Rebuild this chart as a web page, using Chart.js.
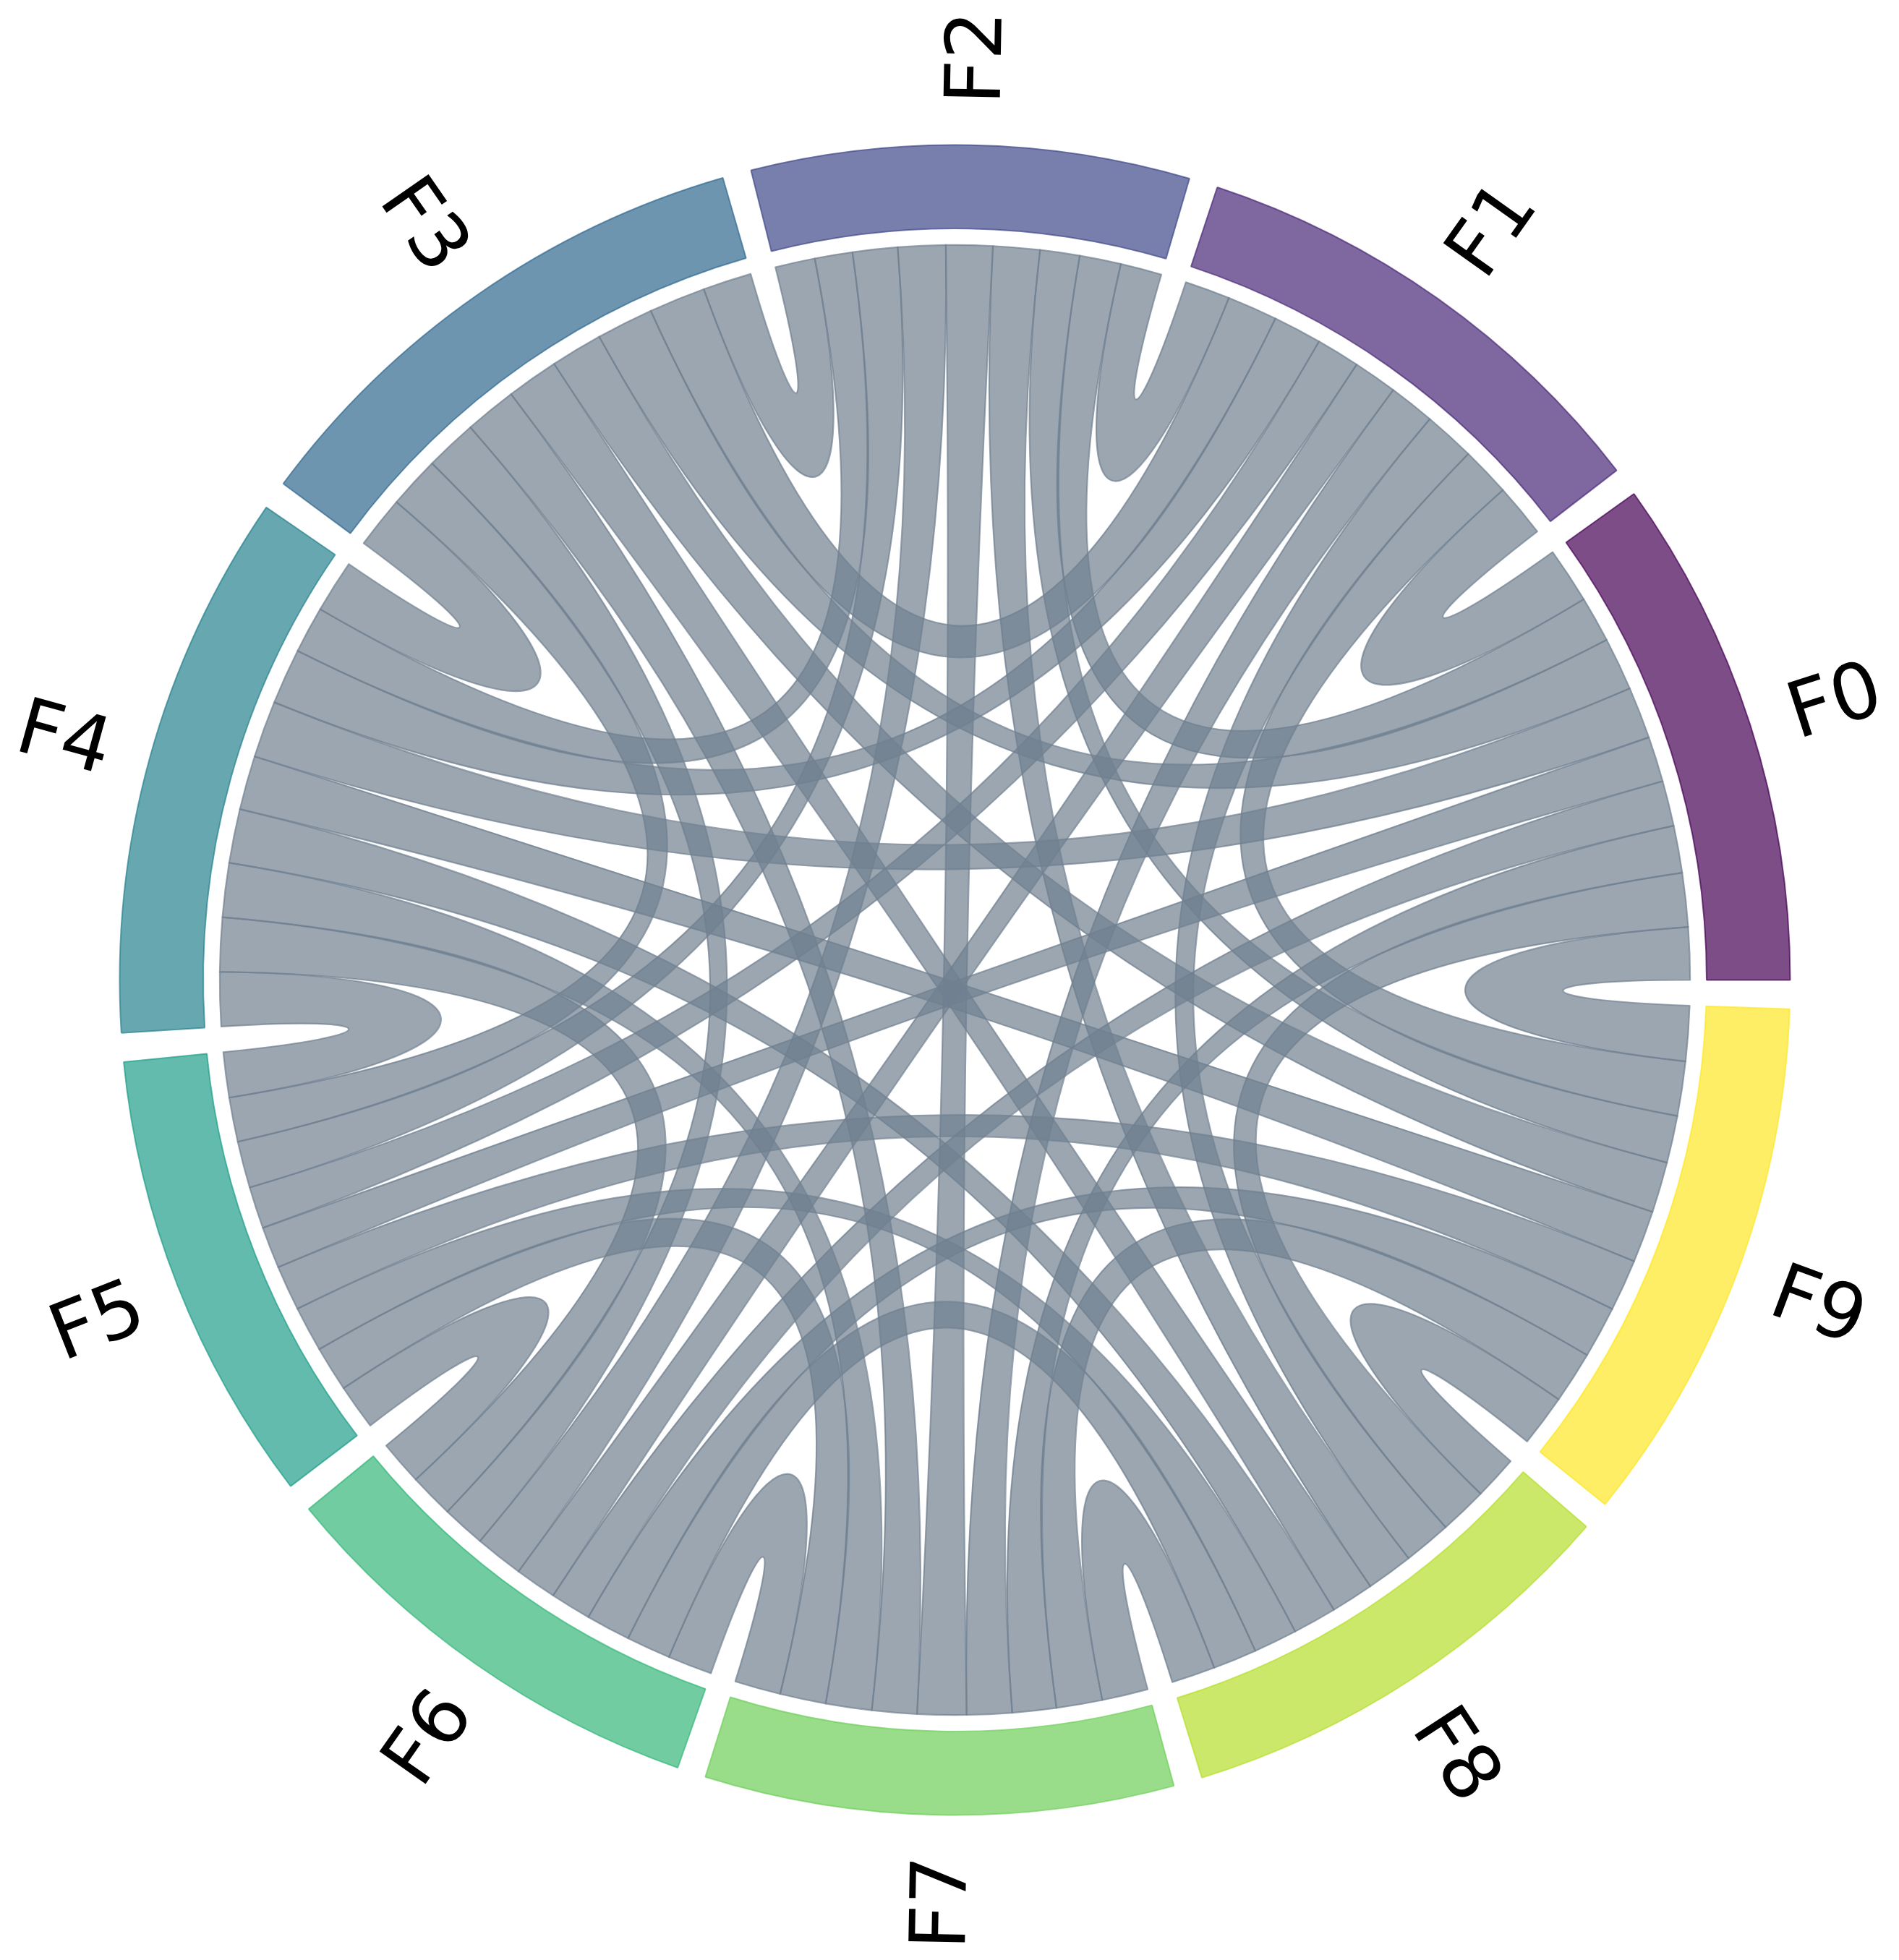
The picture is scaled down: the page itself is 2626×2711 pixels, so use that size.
<!DOCTYPE html>
<html><head><meta charset="utf-8">
<script src="https://cdn.jsdelivr.net/npm/chart.js@4.4.0/dist/chart.umd.min.js"></script>
<style>html,body{margin:0;padding:0;background:#fff;}canvas{display:block;}</style>
</head><body>
<canvas id="c" width="2626" height="2711" style="width:2626px;height:2711px"></canvas>
<script>
// ---- data (flow widths, row = source node, column = target node) ----
const nodes = ['F0','F1','F2','F3','F4','F5','F6','F7','F8','F9'];
const fromF0 = [0, 4.41, 3.64, 4.19, 4.10, 3.58, 3.58, 3.73, 4.25, 4.14];
const fromF1 = [4.20, 0, 3.57, 3.97, 3.84, 3.44, 3.48, 3.64, 4.05, 3.90];
const fromF2 = [3.27, 3.26, 0, 3.14, 2.98, 3.55, 3.76, 3.67, 3.69, 3.13];
const fromF3 = [4.50, 4.47, 3.84, 0, 4.10, 4.10, 4.10, 4.10, 4.10, 4.10];
const fromF4 = [4.49, 4.41, 3.69, 4.17, 0, 4.27, 4.27, 4.27, 4.27, 4.27];
const fromF5 = [3.29, 3.31, 3.69, 3.50, 3.58, 0, 3.58, 3.58, 3.58, 3.58];
const fromF6 = [3.22, 3.29, 3.82, 3.43, 3.51, 3.51, 0, 3.51, 3.51, 3.51];
const fromF7 = [3.47, 3.56, 3.86, 3.55, 3.63, 3.63, 3.63, 0, 3.63, 3.63];
const fromF8 = [3.77, 3.77, 3.70, 3.38, 3.46, 3.46, 3.46, 3.46, 0, 3.46];
const fromF9 = [4.36, 4.31, 3.72, 4.01, 4.10, 4.10, 4.10, 4.10, 4.10, 0];
const matrix = [fromF0, fromF1, fromF2, fromF3, fromF4, fromF5, fromF6, fromF7, fromF8, fromF9];
const arcColors = ['#440154','#482878','#3e4989','#31688e','#26828e','#1f9e89','#35b779','#6ece58','#b5de2b','#fde725'];
const padDeg = 2;

function rgba(hex, a){const v=parseInt(hex.slice(1),16);return `rgba(${v>>16&255},${v>>8&255},${v&255},${a})`;}

const n = nodes.length;
const rowSums = matrix.map(r => r.reduce((a,b)=>a+b,0));
const total = rowSums.reduce((a,b)=>a+b,0);
const gapValue = total * padDeg / (360 - n*padDeg);

// doughnut slices, clockwise from the 3 o'clock position: gap, F9, gap, F8, ... gap, F0
const sliceValues=[], sliceFill=[], sliceBorder=[], sliceBW=[], sliceNode=[];
for (let k=n-1;k>=0;k--){
  sliceValues.push(gapValue); sliceFill.push('rgba(0,0,0,0)'); sliceBorder.push('rgba(0,0,0,0)'); sliceBW.push(0); sliceNode.push(-1);
  sliceValues.push(rowSums[k]); sliceFill.push(rgba(arcColors[k],0.7)); sliceBorder.push(rgba(arcColors[k],0.7)); sliceBW.push(2); sliceNode.push(k);
}

// control-point radius factor of a chord edge as a function of the angular distance of its ends
function kCtrl(d){ return Math.max(0.3, 1 - 0.182*Math.pow(Math.max(d,0), 0.339)); }
function angDist(a,b){ let d=Math.abs(a-b)%360; return d>180?360-d:d; }

const chordPlugin = {
  id:'chords',
  afterDatasetsDraw(chart){
    const meta = chart.getDatasetMeta(0);
    const arcs=[]; let cx,cy,rIn,rOut;
    meta.data.forEach((el,idx)=>{
      const p = el.getProps(['x','y','startAngle','endAngle','innerRadius','outerRadius'], true);
      cx=p.x; cy=p.y; rIn=p.innerRadius; rOut=p.outerRadius;
      const node = sliceNode[idx];
      if (node<0) return;
      const a0 = -p.endAngle*180/Math.PI, a1 = -p.startAngle*180/Math.PI;
      const s = ((a0%360)+360)%360;
      arcs[node] = [s, s + (a1-a0)];
    });
    const sub = nodes.map(()=>[]);
    for (let i=0;i<n;i++){
      let cur = arcs[i][0];
      const sc = (arcs[i][1]-arcs[i][0])/rowSums[i];
      for (let st=1; st<n; st++){
        const j=(i-st+n)%n;
        const w = matrix[i][j]*sc;
        sub[i][j]=[cur,cur+w]; cur+=w;
      }
    }
    const R = rIn*0.978;
    const ctx = chart.ctx;
    const P = (r,deg)=>[cx + r*Math.cos(deg*Math.PI/180), cy - r*Math.sin(deg*Math.PI/180)];
    ctx.save();
    ctx.fillStyle='rgba(112,128,144,0.7)';
    ctx.strokeStyle='rgba(112,128,144,0.7)';
    ctx.lineWidth=2.2;
    ctx.lineJoin='round';
    for (let i=0;i<n;i++){
      for (let j=i+1;j<n;j++){
        const [s1,e1]=sub[i][j], [s2,e2]=sub[j][i];
        const k1=kCtrl(angDist(e1,s2))*R, k2=kCtrl(angDist(e2,s1))*R;
        ctx.beginPath();
        let p=P(R,s1); ctx.moveTo(p[0],p[1]);
        ctx.arc(cx,cy,R,-s1*Math.PI/180,-e1*Math.PI/180,true);
        let c1=P(k1,e1), c2=P(k1,s2), q=P(R,s2);
        ctx.bezierCurveTo(c1[0],c1[1],c2[0],c2[1],q[0],q[1]);
        ctx.arc(cx,cy,R,-s2*Math.PI/180,-e2*Math.PI/180,true);
        c1=P(k2,e2); c2=P(k2,s1); q=P(R,s1);
        ctx.bezierCurveTo(c1[0],c1[1],c2[0],c2[1],q[0],q[1]);
        ctx.closePath();
        ctx.fill(); ctx.stroke();
      }
    }
    const fs=107, capH=0.729*fs;
    ctx.fillStyle='#000';
    ctx.font=`${fs}px "DejaVu Sans"`;
    ctx.textAlign='center'; ctx.textBaseline='alphabetic';
    for (let i=0;i<n;i++){
      const mid=(arcs[i][0]+arcs[i][1])/2;
      const m=((mid%360)+360)%360;
      const pos=P(rOut*1.105, m);
      const rot = (m<=90 || m>=270) ? m : m-180;
      ctx.save();
      ctx.translate(pos[0],pos[1]);
      ctx.rotate(-rot*Math.PI/180);
      ctx.fillText(nodes[i],0,capH/2);
      ctx.restore();
    }
    ctx.restore();
  }
};

new Chart(document.getElementById('c'), {
  type:'doughnut',
  data:{ labels: sliceNode.map(k=>k<0?'':nodes[k]),
    datasets:[{ data: sliceValues, backgroundColor: sliceFill, borderColor: sliceBorder, borderWidth: sliceBW,
      radius: 1155, cutout:'90%' }]},
  options:{
    responsive:false, animation:false, devicePixelRatio:1, events:[],
    rotation: 90, circumference: 360,
    layout:{padding:{left:15,right:0,top:0,bottom:0}},
    plugins:{legend:{display:false}, tooltip:{enabled:false}, title:{display:false}}
  },
  plugins:[chordPlugin]
});
</script>
</body></html>
